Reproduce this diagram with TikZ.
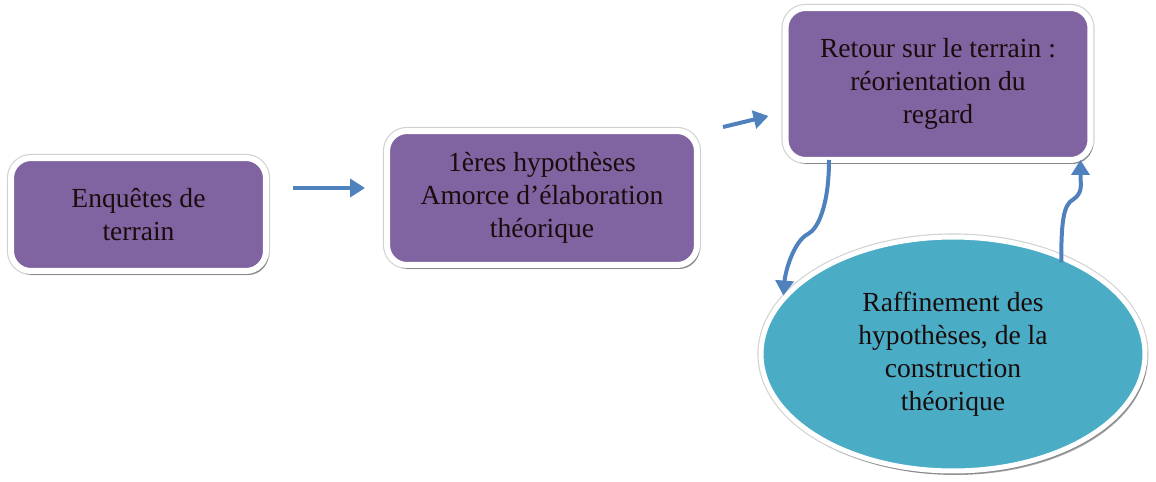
\documentclass[tikz,border=0pt]{standalone}
\usepackage{fontspec}
\setmainfont{Liberation Serif}
\usetikzlibrary{shapes.geometric,arrows.meta,shadows,calc}
\definecolor{boxpurple}{RGB}{128,100,162}
\definecolor{ellteal}{RGB}{75,172,198}
\definecolor{arrblue}{RGB}{79,129,189}
\definecolor{txt}{RGB}{25,12,12}
\tikzset{
  purplebox/.style={rectangle, rounded corners=0.4cm, fill=boxpurple, draw=white,
    line width=0.12cm, align=center, text=txt, inner sep=0pt,
    font=\fontsize{15.7}{18.7}\selectfont,
    preaction={draw=black!18, line width=0.165cm},
    drop shadow={shadow xshift=0.05cm, shadow yshift=-0.08cm, fill=black, opacity=0.35}},
  tealell/.style={ellipse, fill=ellteal, draw=white, line width=0.1cm, align=center,
    text=txt, inner sep=0pt, font=\fontsize{15.7}{18.7}\selectfont,
    preaction={draw=black!18, line width=0.145cm},
    drop shadow={shadow xshift=0.05cm, shadow yshift=-0.08cm, fill=black, opacity=0.35}},
  flowarrow/.style={draw=arrblue, line width=0.08cm,
    -{Triangle[length=0.3cm, width=0.36cm]}}
}
\begin{document}
\begin{tikzpicture}[x=0.02cm, y=-0.02cm]
\useasboundingbox (0,0) rectangle (1156,481);
\node[purplebox, minimum width=5.1cm, minimum height=2.26cm] (b1) at (138.5,214.5)
  {Enquêtes de\\terrain};
\node[purplebox, minimum width=6.2cm, minimum height=2.68cm] (b2) at (542,198)
  {1ères hypothèses\\Amorce d’élaboration\\théorique};
\node[purplebox, minimum width=6.1cm, minimum height=3.04cm] (b3) at (938,84)
  {Retour sur le terrain :\\réorientation du\\regard};
\node[tealell, minimum width=7.68cm, minimum height=4.68cm] (el) at (953,354)
  {Raffinement des\\hypothèses, de la\\construction\\théorique};
\draw[flowarrow] ([shift={(24,-26.5)}]b1.east) -- ([shift={(-19,-10)}]b2.west);
\draw[flowarrow] ([shift={(23,-1)}]b2.north east) -- ([shift={(-14,32)}]b3.west);
\draw[flowarrow] ([shift={(-109,-3)}]b3.south) .. controls +(0,45) and +(10,-5) .. ++(-21,74)
  .. controls +(-14,7) and +(2,-25) .. (el.161);
\draw[flowarrow] ([shift={(-4,6)}]el.41) .. controls +(0,-40) and +(-10,5) .. ++(12,-63)
  .. controls +(10,-7) and +(0,25) .. ([shift={(-13,-3)}]b3.south east);
\end{tikzpicture}
\end{document}
